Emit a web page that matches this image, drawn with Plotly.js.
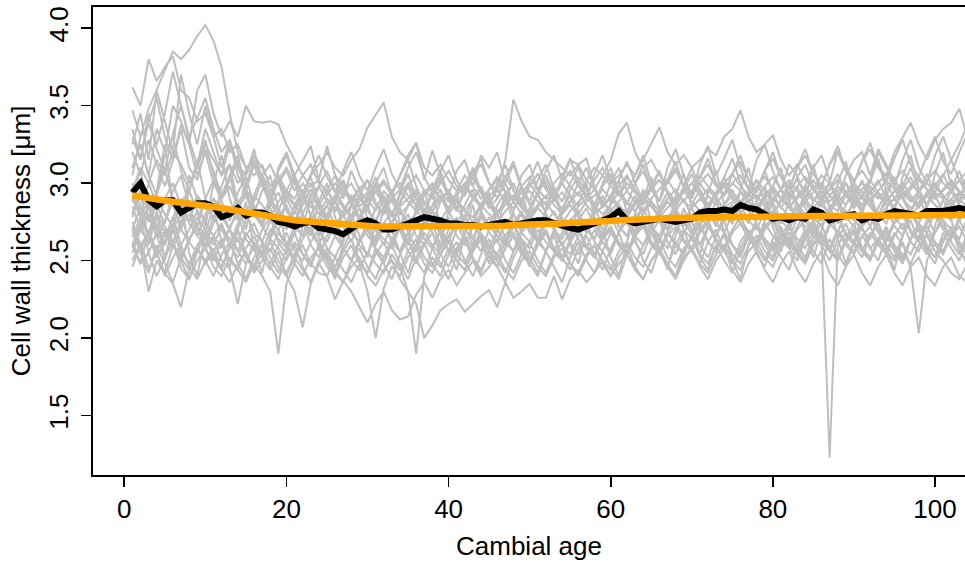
<!DOCTYPE html>
<html>
<head>
<meta charset="utf-8">
<script src="https://cdn.plot.ly/plotly-3.0.1.min.js"></script>
<style>html,body{margin:0;padding:0;background:#fff;overflow:hidden;}#chart{width:965px;height:564px;}</style>
</head>
<body>
<div id="chart"></div>
<script>
// Individual tree series (cell wall thickness per cambial age, starting at age 1)
const series01 = [3.05,3.30,3.48,3.60,3.72,3.85,3.80,3.86,3.95,4.02, 3.92,3.75,3.45,3.20,3.10,3.05,3.12,2.98,3.05,2.95, 2.90,3.00,2.92,2.85,2.95,2.88,2.80,2.92,2.85,2.90, 2.82,2.95,2.88,2.80,2.85,2.90,2.78,2.85,2.92,2.80, 2.88,2.82,2.75,2.85,2.90,2.80,2.86,2.92,2.84,2.78, 2.85,2.88,2.80,2.74,2.82,2.88,2.92,2.85,2.80,2.86, 2.95,2.88,2.82,2.90,2.85,2.78,2.84,2.90,2.95,2.88, 2.82,2.86,2.92,2.98,2.90,2.84,2.88,2.92,2.85,2.80, 2.88,2.94,2.86,2.80,2.84,2.90,2.86,2.82,2.92,2.98, 2.90,2.85,2.80,2.88,2.95,2.90,2.84,2.88,2.92,2.86, 2.82,2.90,2.94,2.88];
const series02 = [3.62,3.50,3.80,3.66,3.75,3.82,3.60,3.55,3.40,3.45, 3.30,3.35,3.20,3.25,3.10,3.15,3.05,3.12,3.00,3.08, 2.95,3.05,2.98,3.02,2.92,3.00,2.95,2.88,2.96,3.02, 2.94,2.88,2.95,3.00,2.92,2.86,2.94,3.00,2.95,2.88, 2.92,2.98,2.90,2.85,2.92,2.96,2.88,2.84,2.90,2.95, 2.88,2.82,2.90,2.94,2.86,2.80,2.88,2.92,2.96,2.90, 2.98,3.05,2.95,2.90,2.98,3.02,2.94,2.88,2.95,3.00, 3.05,2.98,2.92,3.00,3.06,2.98,2.92,2.98,3.04,2.96, 2.90,2.96,3.02,2.95,2.88,2.94,3.00,2.92,2.86,2.94, 3.00,2.95,2.90,2.96,3.02,2.94,2.88,2.95,3.00,2.94, 2.90,2.96,3.02,2.96];
const series03 = [3.47,3.30,3.38,3.25,3.45,3.72,3.50,3.30,3.42,3.55, 3.35,3.20,3.28,3.12,3.05,3.18,3.10,2.98,3.05,2.92, 2.85,2.95,2.88,2.80,2.90,2.84,2.78,2.86,2.92,2.82, 2.76,2.84,2.90,2.82,2.75,2.80,2.88,2.82,2.76,2.84, 2.90,2.82,2.78,2.86,2.80,2.74,2.82,2.88,2.80,2.76, 2.84,2.78,2.72,2.80,2.86,2.78,2.72,2.80,2.85,2.90, 2.84,2.78,2.86,2.92,2.85,2.80,2.88,2.82,2.76,2.84, 2.90,2.84,2.78,2.86,2.92,2.88,2.82,2.76,2.84,2.90, 2.85,2.78,2.84,2.90,2.82,2.76,2.82,2.88,2.80,2.86, 2.92,2.85,2.78,2.84,2.90,2.84,2.78,2.86,2.92,2.86, 2.80,2.86,2.90,2.84];
const series04 = [3.10,3.25,3.05,3.35,3.20,3.50,3.40,3.25,3.60,3.70, 3.45,3.30,3.40,3.30,3.50,3.40,3.39,3.40,3.38,3.25, 3.15,3.05,3.12,3.00,2.95,3.05,2.98,2.90,2.96,2.88, 2.94,3.00,2.92,2.85,2.90,2.96,2.88,2.82,2.90,2.95, 2.88,2.82,2.90,2.96,2.88,2.82,2.86,2.92,2.85,2.80, 2.86,2.92,2.86,2.80,2.88,2.94,2.86,2.80,2.85,2.92, 2.86,2.80,2.88,2.94,2.88,2.82,2.90,2.96,2.88,2.84, 2.90,2.96,2.90,2.84,2.88,2.94,2.88,2.82,2.90,2.96, 2.90,2.84,2.92,2.98,2.90,2.85,2.92,2.98,2.92,2.86, 2.92,2.98,2.92,2.86,2.90,2.96,2.90,2.84,2.92,2.98, 2.92,2.86,2.94,2.90];
const series05 = [2.95,3.10,3.00,3.15,3.05,3.20,3.12,3.00,3.10,3.25, 3.15,3.05,3.12,3.00,3.08,3.15,3.05,2.95,3.02,3.10, 3.00,2.92,3.05,3.12,3.20,3.10,3.05,3.15,3.22,3.36, 3.44,3.52,3.30,3.20,3.15,3.26,3.10,3.05,3.12,3.02, 2.95,3.05,2.98,2.90,2.96,3.04,2.95,2.88,2.94,3.00, 2.92,2.86,2.94,3.00,2.92,2.85,2.90,2.96,2.88,2.82, 2.88,2.95,2.88,2.82,2.90,2.96,3.02,2.94,2.88,2.95, 3.00,2.92,2.86,2.94,3.00,2.95,2.88,2.84,2.92,2.98, 2.90,2.84,2.90,2.96,3.02,2.94,2.88,2.95,3.00,2.92, 2.86,2.94,3.00,3.06,2.98,2.92,2.98,3.04,2.96,2.90, 2.96,3.02,2.95,2.90];
const series06 = [2.80,2.95,2.85,2.70,2.90,3.00,2.85,2.75,2.92,2.85, 2.78,2.90,2.98,2.85,2.80,2.92,2.86,2.78,2.88,2.95, 2.86,2.80,2.92,2.98,2.88,2.82,2.94,3.00,2.90,2.85, 2.95,3.02,2.92,2.86,2.98,3.05,2.95,2.90,3.00,3.08, 2.98,2.92,3.05,3.12,3.00,2.95,3.15,3.54,3.40,3.30, 3.28,3.20,3.15,3.10,3.05,3.12,3.02,2.96,3.05,2.98, 2.92,3.00,2.94,2.88,2.96,3.02,2.95,2.88,2.94,3.00, 2.92,2.86,2.94,3.00,2.94,2.88,2.95,3.02,2.95,2.90, 2.96,3.02,2.95,2.88,2.94,3.00,2.92,2.86,2.94,3.00, 2.94,2.88,2.95,3.02,2.96,2.90,2.96,3.02,2.96,2.90, 2.95,3.00,2.94,2.88];
const series07 = [2.70,2.85,2.75,2.90,2.80,2.72,2.88,2.95,2.82,2.76, 2.90,2.84,2.76,2.88,2.94,2.84,2.78,2.90,2.82,2.74, 2.84,2.90,2.80,2.74,2.86,2.92,2.84,2.78,2.88,2.94, 2.86,2.80,2.90,2.96,2.88,2.82,2.92,2.98,2.90,2.84, 2.94,3.00,2.92,2.86,2.96,3.02,2.94,2.88,2.98,3.04, 2.96,2.90,3.00,3.06,2.98,2.92,3.02,3.10,3.05,3.15, 3.32,3.39,3.20,3.10,3.15,3.05,3.00,3.08,2.98,2.92, 3.00,3.06,2.98,2.92,3.00,3.05,2.96,2.90,2.98,3.04, 2.96,2.90,2.98,3.04,2.96,2.90,2.96,3.02,2.94,2.88, 2.96,3.02,2.94,2.88,2.95,3.00,2.92,2.86,2.94,3.00, 2.92,2.86,2.92,2.98];
const series08 = [2.60,2.75,2.85,2.70,2.62,2.78,2.88,2.74,2.66,2.80, 2.90,2.78,2.70,2.84,2.92,2.80,2.72,2.86,2.94,2.82, 2.74,2.86,2.96,2.84,2.76,2.88,2.98,2.86,2.78,2.90, 2.98,2.88,2.80,2.92,3.00,2.90,2.82,2.94,3.02,2.92, 2.84,2.94,3.04,2.94,2.86,2.96,3.05,2.95,2.88,2.98, 3.06,2.96,2.90,3.00,3.08,2.98,2.92,3.02,3.10,3.00, 3.05,3.12,3.05,3.15,3.25,3.36,3.20,3.12,3.18,3.10, 3.15,3.22,3.18,3.30,3.35,3.47,3.30,3.20,3.25,3.31, 3.15,3.05,3.12,3.02,2.96,3.05,3.00,3.21,3.10,3.02, 3.08,3.00,3.20,3.10,3.02,3.08,3.00,2.94,3.02,3.08, 3.00,2.95,3.02,3.08];
const series09 = [2.55,2.70,2.62,2.78,2.68,2.58,2.72,2.80,2.66,2.60, 2.74,2.82,2.70,2.62,2.76,2.84,2.72,2.64,2.78,2.86, 2.74,2.66,2.80,2.88,2.76,2.68,2.82,2.90,2.78,2.70, 2.84,2.92,2.80,2.72,2.86,2.94,2.82,2.74,2.88,2.96, 2.84,2.76,2.90,2.98,2.86,2.78,2.92,3.00,2.88,2.80, 2.94,3.02,2.90,2.82,2.96,3.04,2.92,2.84,2.98,3.06, 2.94,2.86,3.00,3.08,2.96,2.88,3.02,3.10,2.98,2.90, 3.04,3.12,3.00,2.92,3.06,3.14,3.02,2.94,3.08,3.16, 3.04,2.96,3.10,3.18,3.06,2.98,3.12,3.20,3.08,3.00, 3.14,3.22,3.10,3.05,3.20,3.30,3.39,3.25,3.15,3.28, 3.35,3.39,3.48,3.30];
const series10 = [2.75,2.60,2.68,2.55,2.70,2.62,2.50,2.64,2.72,2.58, 2.66,2.74,2.60,2.52,2.66,2.74,2.62,2.56,2.68,2.60, 2.52,2.64,2.72,2.60,2.54,2.66,2.58,2.50,2.62,2.70, 2.58,2.52,2.64,2.72,2.62,2.56,2.68,2.60,2.54,2.66, 2.74,2.62,2.56,2.68,2.60,2.54,2.66,2.74,2.64,2.58, 2.70,2.62,2.56,2.68,2.76,2.64,2.58,2.70,2.62,2.56, 2.68,2.76,2.66,2.60,2.72,2.64,2.58,2.70,2.78,2.66, 2.60,2.72,2.64,2.58,2.70,2.78,2.68,2.62,2.74,2.66, 2.60,2.72,2.64,2.58,2.70,2.62,1.23,2.60,2.68,2.62, 2.56,2.68,2.60,2.54,2.66,2.74,2.62,2.56,2.68,2.60, 2.54,2.66,2.72,2.62];
const series11 = [2.90,2.78,2.66,2.80,2.72,2.62,2.76,2.84,2.70,2.64, 2.78,2.70,2.60,2.74,2.82,2.68,2.62,2.76,2.70,2.60, 2.72,2.80,2.68,2.60,2.74,2.66,2.58,2.70,2.78,2.66, 2.60,2.72,2.64,2.56,2.68,2.76,2.64,2.58,2.70,2.62, 2.56,2.68,2.76,2.64,2.58,2.70,2.62,2.56,2.68,2.74, 2.62,2.56,2.68,2.60,2.54,2.66,2.74,2.62,2.56,2.68, 2.60,2.54,2.66,2.74,2.62,2.56,2.68,2.60,2.54,2.66, 2.72,2.62,2.56,2.68,2.60,2.54,2.66,2.74,2.64,2.58, 2.70,2.62,2.56,2.68,2.76,2.64,2.58,2.70,2.62,2.56, 2.66,2.58,2.64,2.56,2.50,2.62,2.45,2.03,2.50,2.62, 2.56,2.68,2.60,2.54];
const series12 = [2.60,2.48,2.55,2.40,2.52,2.62,2.45,2.38,2.50,2.58, 2.46,2.40,2.52,2.44,2.36,2.48,2.40,2.30,1.90,2.35, 2.48,2.40,2.52,2.58,2.46,2.40,2.52,2.60,2.48,2.42, 2.54,2.62,2.50,2.44,2.56,2.64,2.52,2.46,2.58,2.66, 2.54,2.48,2.60,2.66,2.56,2.50,2.62,2.68,2.56,2.50, 2.62,2.70,2.58,2.52,2.64,2.72,2.60,2.54,2.66,2.72, 2.62,2.56,2.68,2.74,2.62,2.56,2.68,2.76,2.64,2.58, 2.70,2.76,2.64,2.58,2.70,2.78,2.66,2.60,2.72,2.78, 2.66,2.60,2.72,2.80,2.68,2.62,2.74,2.80,2.68,2.62, 2.74,2.80,2.70,2.64,2.76,2.82,2.70,2.64,2.76,2.82, 2.72,2.66,2.78,2.84];
const series13 = [2.85,2.70,2.80,2.65,2.75,2.88,2.70,2.62,2.78,2.70, 2.60,2.72,2.64,2.56,2.68,2.60,2.52,2.64,2.58,2.50, 2.62,2.54,2.48,2.60,2.52,2.46,2.58,2.50,2.44,2.56, 2.48,2.42,2.54,2.46,2.30,1.90,2.40,2.52,2.46,2.58, 2.50,2.44,2.56,2.64,2.52,2.46,2.58,2.66,2.54,2.48, 2.60,2.68,2.56,2.50,2.62,2.70,2.58,2.52,2.64,2.72, 2.60,2.54,2.66,2.74,2.62,2.56,2.68,2.62,2.54,2.66, 2.74,2.62,2.56,2.68,2.60,2.54,2.66,2.72,2.62,2.56, 2.68,2.60,2.54,2.66,2.74,2.62,2.56,2.68,2.60,2.54, 2.66,2.72,2.62,2.56,2.68,2.60,2.54,2.66,2.72,2.62, 2.56,2.68,2.62,2.56];
const series14 = [2.50,2.62,2.45,2.55,2.40,2.52,2.60,2.46,2.38,2.50, 2.58,2.44,2.36,2.48,2.56,2.42,2.50,2.58,2.46,2.40, 2.52,2.44,2.36,2.48,2.54,2.42,2.36,2.46,2.52,2.40, 2.34,2.44,2.50,2.38,2.30,2.22,2.00,2.08,2.18,2.22, 2.25,2.17,2.22,2.27,2.31,2.20,2.36,2.26,2.30,2.35, 2.26,2.26,2.40,2.25,2.38,2.44,2.36,2.42,2.50,2.40, 2.48,2.54,2.44,2.38,2.50,2.56,2.46,2.40,2.52,2.58, 2.48,2.42,2.54,2.60,2.50,2.44,2.56,2.62,2.52,2.46, 2.58,2.64,2.54,2.48,2.60,2.66,2.56,2.50,2.62,2.68, 2.56,2.50,2.62,2.68,2.58,2.52,2.64,2.70,2.58,2.52, 2.64,2.70,2.60,2.54];
const series15 = [2.70,2.58,2.66,2.52,2.62,2.70,2.56,2.48,2.60,2.68, 2.54,2.46,2.58,2.64,2.52,2.44,2.56,2.62,2.50,2.42, 2.54,2.60,2.48,2.42,2.40,2.25,2.37,2.30,2.20,2.10, 2.22,2.30,2.18,2.12,2.14,2.28,2.36,2.26,2.38,2.44, 2.34,2.42,2.50,2.40,2.46,2.54,2.44,2.38,2.50,2.56, 2.46,2.40,2.52,2.58,2.48,2.42,2.54,2.60,2.50,2.44, 2.56,2.62,2.52,2.46,2.58,2.64,2.52,2.46,2.58,2.64, 2.54,2.48,2.60,2.66,2.54,2.48,2.60,2.66,2.56,2.50, 2.62,2.68,2.56,2.50,2.62,2.68,2.58,2.52,2.64,2.70, 2.58,2.52,2.64,2.70,2.60,2.54,2.48,2.60,2.66,2.56, 2.50,2.42,2.38,2.48];
const series16 = [2.46,2.60,2.30,2.50,2.42,2.35,2.20,2.45,2.58,2.48, 2.56,2.64,2.50,2.44,2.58,2.66,2.54,2.48,2.60,2.68, 2.56,2.50,2.62,2.70,2.58,2.52,2.64,2.72,2.60,2.54, 2.66,2.74,2.62,2.56,2.68,2.76,2.64,2.58,2.70,2.78, 2.66,2.60,2.72,2.80,2.68,2.62,2.74,2.80,2.68,2.62, 2.74,2.80,2.70,2.64,2.76,2.82,2.70,2.64,2.76,2.82, 2.72,2.66,2.78,2.84,2.72,2.66,2.78,2.84,2.74,2.68, 2.80,2.86,2.74,2.68,2.80,2.86,2.76,2.70,2.82,2.88, 2.76,2.70,2.82,2.88,2.78,2.72,2.84,2.90,2.78,2.72, 2.84,2.90,2.80,2.74,2.86,2.92,2.80,2.74,2.86,2.92, 2.82,2.76,2.88,2.94];
const series17 = [2.95,2.80,2.88,2.72,2.65,2.78,2.60,2.70,2.82,2.58, 2.64,2.50,2.45,2.22,2.48,2.62,2.55,2.70,2.64,2.58, 2.72,2.66,2.78,2.70,2.62,2.74,2.80,2.68,2.62,2.75, 2.70,2.64,2.58,2.72,2.80,2.66,2.60,2.74,2.68,2.62, 2.76,2.70,2.64,2.78,2.72,2.66,2.60,2.74,2.82,2.70, 2.64,2.78,2.72,2.60,2.68,2.76,2.70,2.64,2.78,2.84, 2.72,2.66,2.80,2.74,2.68,2.62,2.76,2.82,2.70,2.64, 2.78,2.72,2.66,2.80,2.86,2.74,2.68,2.62,2.76,2.82, 2.70,2.64,2.78,2.72,2.66,2.80,2.74,2.68,2.82,2.76, 2.70,2.64,2.78,2.84,2.72,2.66,2.80,2.74,2.68,2.82, 2.76,2.70,2.64,2.78];
const series18 = [2.65,2.78,2.55,2.68,2.60,2.74,2.52,2.64,2.72,2.58, 2.50,2.62,2.70,2.56,2.48,2.60,2.52,2.44,2.56,2.40, 2.30,2.07,2.35,2.48,2.40,2.52,2.44,2.36,2.48,2.30, 2.00,2.32,2.46,2.40,2.52,2.60,2.48,2.42,2.54,2.62, 2.50,2.44,2.56,2.64,2.52,2.46,2.58,2.66,2.54,2.48, 2.60,2.68,2.56,2.50,2.62,2.70,2.58,2.52,2.64,2.70, 2.60,2.54,2.66,2.72,2.60,2.54,2.66,2.72,2.62,2.56, 2.68,2.74,2.62,2.56,2.68,2.74,2.64,2.58,2.70,2.76, 2.64,2.58,2.70,2.76,2.66,2.60,2.72,2.78,2.66,2.60, 2.72,2.78,2.68,2.62,2.74,2.80,2.68,2.62,2.74,2.80, 2.70,2.64,2.76,2.82];
const series19 = [3.20,3.05,3.28,3.12,2.98,3.15,3.35,3.10,3.02,3.22, 3.08,2.92,3.05,3.18,2.96,2.88,3.02,2.90,2.82,2.95, 3.05,2.92,2.84,2.98,3.08,2.95,2.86,2.78,2.92,3.02, 2.88,2.80,2.94,3.05,3.15,2.98,2.86,2.92,3.04,2.90, 2.82,2.96,3.08,2.94,2.84,2.90,3.00,3.12,2.96,2.86, 2.92,3.05,2.94,2.82,2.88,3.00,3.10,2.96,2.84,2.92, 3.02,3.14,3.00,2.88,2.96,3.08,2.94,2.86,2.98,3.10, 2.96,2.86,2.92,3.04,3.16,3.00,2.88,2.96,3.08,2.94, 2.84,2.92,3.04,3.12,2.98,2.88,2.96,3.06,2.94,2.84, 2.92,3.02,3.14,3.00,2.90,2.98,3.10,2.96,2.86,2.94, 3.05,3.15,3.02,2.92];
const series20 = [3.35,3.15,3.40,3.55,3.30,3.15,3.38,3.25,3.05,3.20, 3.00,2.90,3.05,2.85,2.95,2.80,2.72,2.88,2.78,2.70, 2.82,2.74,2.66,2.78,2.86,2.72,2.64,2.76,2.84,2.70, 2.62,2.74,2.82,2.70,2.60,2.72,2.80,2.68,2.58,2.70, 2.78,2.66,2.58,2.70,2.78,2.66,2.60,2.72,2.80,2.68, 2.62,2.74,2.82,2.70,2.64,2.76,2.84,2.72,2.66,2.78, 2.86,2.74,2.68,2.80,2.88,2.76,2.70,2.82,2.90,2.78, 2.72,2.84,2.92,2.80,2.74,2.86,2.94,2.82,2.76,2.88, 2.96,2.84,2.78,2.90,2.98,2.86,2.80,2.92,3.00,2.88, 2.82,2.94,3.02,2.90,2.84,2.96,3.04,2.92,2.86,2.98, 3.06,2.94,2.88,3.00];
const series21 = [2.58,2.72,2.85,2.66,2.52,2.70,2.80,2.62,2.55,2.74, 2.66,2.58,2.72,2.80,2.64,2.56,2.70,2.78,2.62,2.54, 2.68,2.76,2.60,2.52,2.66,2.74,2.58,2.50,2.64,2.72, 2.56,2.48,2.62,2.70,2.56,2.48,2.60,2.68,2.54,2.46, 2.58,2.66,2.52,2.44,2.56,2.64,2.50,2.42,2.54,2.62, 2.50,2.42,2.54,2.62,2.48,2.40,2.52,2.60,2.48,2.40, 2.52,2.60,2.46,2.38,2.50,2.58,2.46,2.38,2.50,2.58, 2.46,2.38,2.50,2.58,2.44,2.36,2.48,2.56,2.44,2.36, 2.48,2.56,2.44,2.36,2.48,2.56,2.42,2.34,2.46,2.54, 2.42,2.34,2.46,2.54,2.42,2.34,2.46,2.52,2.40,2.34, 2.46,2.52,2.40,2.36];
const series22 = [3.00,2.85,2.65,2.92,3.10,2.88,2.70,2.95,3.15,2.90, 2.75,2.98,3.12,2.86,2.70,2.92,3.05,2.84,2.68,2.90, 3.02,2.80,2.66,2.88,3.00,2.78,2.64,2.86,2.98,2.76, 2.62,2.84,2.96,2.74,2.62,2.84,2.96,2.74,2.60,2.82, 2.94,2.72,2.60,2.82,2.94,2.72,2.60,2.82,2.96,2.74, 2.62,2.84,2.98,2.76,2.64,2.86,3.00,2.78,2.66,2.88, 3.02,2.80,2.68,2.90,3.04,2.82,2.70,2.92,3.06,2.84, 2.72,2.94,3.08,2.86,2.74,2.96,3.10,2.88,2.76,2.98, 3.10,2.88,2.76,2.98,3.12,2.90,2.78,3.00,3.14,2.92, 2.80,3.02,3.16,2.94,2.82,3.04,3.18,2.96,2.84,3.06, 3.20,2.98,2.86,3.08];
const series23 = [2.78,2.95,2.60,2.82,2.50,2.72,2.90,2.55,2.40,2.68, 2.85,2.62,2.45,2.70,2.88,2.58,2.42,2.66,2.84,2.60, 2.48,2.72,2.90,2.64,2.50,2.38,2.62,2.80,2.66,2.52, 2.74,2.92,2.70,2.55,2.42,2.60,2.78,2.95,2.72,2.56, 2.44,2.68,2.86,2.62,2.48,2.70,2.92,2.74,2.58,2.46, 2.64,2.82,2.98,2.76,2.60,2.48,2.68,2.86,2.70,2.52, 2.40,2.62,2.80,2.96,2.74,2.58,2.44,2.66,2.84,2.70, 2.54,2.72,2.90,2.68,2.50,2.38,2.60,2.78,2.94,2.72, 2.56,2.74,2.88,2.66,2.52,2.70,2.86,2.64,2.48,2.62, 2.80,2.96,2.74,2.58,2.44,2.66,2.82,2.70,2.54,2.72, 2.90,2.76,2.60,2.46];
const series24 = [3.10,3.25,3.05,2.92,3.18,3.30,3.08,2.95,3.12,3.28, 3.05,2.90,3.02,3.15,2.92,2.80,2.95,3.05,2.84,2.72, 2.86,2.96,2.78,2.66,2.80,2.90,2.72,2.62,2.76,2.86, 2.70,2.60,2.74,2.84,2.68,2.58,2.72,2.82,2.66,2.56, 2.70,2.80,2.64,2.56,2.70,2.80,2.64,2.56,2.70,2.78, 2.64,2.56,2.70,2.78,2.62,2.54,2.68,2.78,2.62,2.54, 2.68,2.76,2.62,2.54,2.68,2.76,2.62,2.54,2.68,2.76, 2.60,2.52,2.66,2.76,2.60,2.52,2.66,2.74,2.60,2.52, 2.66,2.74,2.60,2.52,2.66,2.74,2.58,2.50,2.64,2.74, 2.58,2.50,2.64,2.72,2.58,2.50,2.64,2.72,2.56,2.48, 2.62,2.72,2.56,2.48];
const series25 = [3.30,3.15,3.45,3.22,3.08,3.32,3.50,3.28,3.12,3.35, 3.20,3.05,3.25,3.10,2.98,3.15,3.02,2.92,3.08,3.18, 3.02,2.92,3.06,3.18,3.04,2.94,3.08,3.20,3.05,2.95, 3.10,3.22,3.06,2.96,3.10,3.20,3.04,2.94,3.08,3.18, 3.02,2.92,3.06,3.16,3.00,2.90,3.04,3.14,2.98,2.88, 3.02,3.12,2.96,2.88,3.00,3.10,2.96,2.86,3.00,3.10, 2.94,2.86,3.00,3.12,2.96,2.88,3.02,3.14,2.98,2.90, 3.04,3.16,3.00,2.92,3.06,3.18,3.02,2.94,3.08,3.20, 3.04,2.96,3.10,3.22,3.06,2.98,3.12,3.24,3.08,3.00, 3.14,3.26,3.10,3.02,3.16,3.28,3.12,3.04,3.18,3.30, 3.14,3.06,3.20,3.32];
const series26 = [2.62,2.48,2.70,2.55,2.42,2.60,2.50,2.38,2.56,2.66, 2.52,2.44,2.60,2.70,2.54,2.46,2.62,2.52,2.42,2.58, 2.68,2.54,2.46,2.60,2.50,2.40,2.56,2.64,2.50,2.42, 2.58,2.48,2.38,2.54,2.64,2.50,2.42,2.58,2.48,2.38, 2.54,2.64,2.50,2.42,2.56,2.46,2.36,2.52,2.62,2.48, 2.40,2.56,2.46,2.36,2.52,2.62,2.50,2.42,2.56,2.46, 2.38,2.54,2.64,2.50,2.42,2.58,2.48,2.40,2.56,2.66, 2.52,2.44,2.60,2.50,2.42,2.58,2.68,2.54,2.46,2.62, 2.52,2.44,2.60,2.70,2.56,2.48,2.64,2.54,2.46,2.62, 2.72,2.58,2.50,2.66,2.56,2.48,2.64,2.74,2.60,2.52, 2.68,2.58,2.50,2.66];
const series27 = [2.88,3.10,2.75,2.95,3.25,2.86,2.70,3.05,2.90,2.72, 3.00,3.18,2.90,2.76,3.05,3.22,3.00,2.85,3.10,3.20, 3.05,3.15,3.24,3.02,3.24,3.05,2.90,3.08,2.95,2.82, 3.00,3.10,2.92,3.05,3.18,3.26,3.02,3.21,3.05,2.92, 3.08,3.15,2.98,3.18,3.10,3.20,3.00,2.88,3.05,3.12, 2.95,3.08,3.18,3.02,3.15,3.12,3.16,2.98,2.86,3.00, 3.10,2.95,3.05,3.18,3.00,2.88,3.10,3.22,3.05,2.92, 3.12,3.24,3.05,3.16,3.28,3.10,2.96,3.15,3.25,3.08, 2.95,3.12,3.05,2.90,3.10,3.18,3.02,2.88,3.05,3.15, 3.20,3.05,3.22,3.12,2.98,3.15,3.28,3.10,3.00,3.18, 3.30,3.15,3.25,3.38];
const series28 = [3.25,3.45,3.15,3.60,3.40,3.20,3.70,3.45,3.25,3.50, 3.30,3.10,3.28,3.05,2.95,3.12,2.98,2.88,3.02,2.90, 2.80,2.94,3.04,2.88,2.78,2.92,3.02,2.86,2.76,2.90, 3.00,2.84,2.74,2.88,2.98,2.84,2.74,2.86,2.96,2.82, 2.72,2.86,2.96,2.82,2.72,2.86,2.94,2.80,2.70,2.84, 2.94,2.80,2.70,2.84,2.92,2.78,2.68,2.82,2.92,2.78, 2.68,2.82,2.92,2.78,2.70,2.84,2.94,2.80,2.72,2.86, 2.96,2.82,2.72,2.86,2.96,2.82,2.74,2.88,2.98,2.84, 2.74,2.88,2.98,2.84,2.76,2.90,3.00,2.86,2.76,2.90, 3.02,2.88,2.78,2.92,3.04,2.90,2.80,2.94,3.06,2.92, 2.82,2.96,3.08,2.94];
const series29 = [2.70,2.55,2.42,2.60,2.48,2.36,2.52,2.44,2.58,2.50, 2.40,2.54,2.62,2.48,2.38,2.52,2.60,2.46,2.38,2.52, 2.60,2.46,2.36,2.50,2.58,2.44,2.36,2.50,2.58,2.46, 2.38,2.52,2.60,2.48,2.38,2.52,2.62,2.48,2.40,2.54, 2.62,2.50,2.40,2.54,2.64,2.50,2.42,2.56,2.64,2.52, 2.42,2.56,2.66,2.52,2.44,2.58,2.66,2.54,2.44,2.58, 2.68,2.54,2.46,2.60,2.68,2.56,2.46,2.60,2.70,2.56, 2.48,2.62,2.70,2.56,2.48,2.62,2.70,2.58,2.50,2.64, 2.72,2.58,2.50,2.64,2.72,2.60,2.50,2.64,2.74,2.60, 2.52,2.66,2.74,2.60,2.52,2.66,2.76,2.62,2.54,2.68, 2.76,2.62,2.54,2.68];
const series30 = [2.92,2.78,3.00,2.86,2.74,2.95,3.05,2.85,2.72,2.90, 3.02,2.88,2.76,2.94,3.04,2.86,2.74,2.92,3.02,2.84, 2.74,2.90,3.00,2.84,2.74,2.90,3.02,2.86,2.76,2.92, 3.04,2.88,2.78,2.94,3.06,2.90,2.80,2.96,3.08,2.92, 2.82,2.98,3.10,2.94,2.84,3.00,3.12,2.96,2.86,3.02, 3.14,2.98,2.88,3.04,3.16,3.00,2.90,3.06,3.18,3.02, 2.92,3.04,2.96,2.86,2.98,3.08,2.94,2.84,2.96,3.06, 2.92,2.82,2.94,3.04,2.90,2.80,2.92,3.02,2.88,2.78, 2.90,3.00,2.86,2.76,2.88,2.98,2.84,2.74,2.86,2.96, 2.82,2.72,2.84,2.94,2.80,2.70,2.82,2.92,2.78,2.68, 2.80,2.90,2.76,2.66];

// Mean chronology (black) and smoothed trend (orange)
const meanSeries = [2.94,3.00,2.89,2.85,2.89,2.89,2.81,2.84,2.87,2.87, 2.85,2.78,2.80,2.84,2.79,2.81,2.81,2.79,2.75,2.74, 2.72,2.74,2.75,2.71,2.70,2.69,2.67,2.71,2.74,2.76, 2.74,2.70,2.70,2.72,2.74,2.76,2.78,2.77,2.76,2.74, 2.74,2.73,2.73,2.72,2.73,2.74,2.75,2.73,2.74,2.75, 2.76,2.76,2.74,2.72,2.71,2.70,2.72,2.74,2.75,2.78, 2.82,2.76,2.74,2.75,2.76,2.77,2.76,2.75,2.76,2.77, 2.81,2.82,2.82,2.83,2.82,2.86,2.84,2.83,2.80,2.77, 2.78,2.76,2.78,2.77,2.83,2.81,2.76,2.78,2.79,2.80, 2.76,2.78,2.77,2.80,2.82,2.81,2.80,2.79,2.82,2.82, 2.82,2.83,2.84,2.83];
const trendSeries = [2.920,2.910,2.905,2.900,2.890,2.880,2.875,2.870,2.860,2.855, 2.845,2.840,2.830,2.820,2.810,2.800,2.795,2.785,2.775,2.765, 2.760,2.755,2.750,2.745,2.740,2.735,2.730,2.730,2.725,2.725, 2.720,2.720,2.720,2.715,2.715,2.715,2.715,2.715,2.715,2.715, 2.715,2.720,2.720,2.720,2.720,2.725,2.725,2.730,2.730,2.730, 2.735,2.735,2.740,2.740,2.745,2.745,2.750,2.750,2.755,2.755, 2.760,2.760,2.765,2.765,2.770,2.770,2.775,2.775,2.775,2.780, 2.780,2.780,2.780,2.782,2.782,2.783,2.783,2.784,2.784,2.785, 2.785,2.786,2.786,2.787,2.787,2.788,2.788,2.789,2.789,2.790, 2.790,2.790,2.791,2.791,2.792,2.792,2.793,2.793,2.794,2.794, 2.795,2.795,2.795,2.795];

const xTicks = [0, 20, 40, 60, 80, 100];
const yTicks = [1.5, 2.0, 2.5, 3.0, 3.5, 4.0];
const yTickLabels = ["1.5", "2.0", "2.5", "3.0", "3.5", "4.0"];

const allSeries = [series01,series02,series03,series04,series05,series06,series07,series08,series09,series10,
  series11,series12,series13,series14,series15,series16,series17,series18,series19,series20,
  series21,series22,series23,series24,series25,series26,series27,series28,series29,series30];

const ages = arr => arr.map((_, i) => i + 1);

const traces = allSeries.map(s => ({
  type: 'scatter', mode: 'lines', x: ages(s), y: s,
  line: {color: '#BEBEBE', width: 2}, hoverinfo: 'skip', showlegend: false
}));
traces.push({type: 'scatter', mode: 'lines', x: ages(meanSeries), y: meanSeries,
  line: {color: '#000000', width: 6}, showlegend: false});
traces.push({type: 'scatter', mode: 'lines', x: ages(trendSeries), y: trendSeries,
  line: {color: '#FFA500', width: 6.5}, showlegend: false});

const fontFam = 'Liberation Sans, Arial, Helvetica, sans-serif';
const fs = 26;
const layout = {
  width: 965, height: 564,
  margin: {l: 93, r: 0, t: 7, b: 89, pad: 0},
  paper_bgcolor: '#ffffff', plot_bgcolor: '#ffffff',
  font: {family: fontFam, size: fs, color: '#000000'},
  showlegend: false,
  xaxis: {
    range: [-3.86, 103.7], showgrid: false, zeroline: false,
    showline: true, linecolor: '#000', linewidth: 1.6, mirror: true,
    ticks: 'outside', ticklen: 10, tickwidth: 1.6, tickcolor: '#000',
    tickvals: xTicks, ticktext: xTicks.map(String),
    tickfont: {family: fontFam, size: fs, color: '#000'},
    title: {text: 'Cambial age', font: {family: fontFam, size: fs, color: '#000'}, standoff: 14}
  },
  yaxis: {
    range: [1.116, 4.137], showgrid: false, zeroline: false,
    showline: true, linecolor: '#000', linewidth: 1.6, mirror: false,
    ticks: 'outside', ticklen: 10, tickwidth: 1.6, tickcolor: '#000',
    tickvals: yTicks, ticktext: yTickLabels, tickangle: -90, ticklabelstandoff: 3,
    tickfont: {family: fontFam, size: fs, color: '#000'},
    title: {text: 'Cell wall thickness [\u03bcm]', font: {family: fontFam, size: fs, color: '#000'}, standoff: 6}
  }
};

Plotly.newPlot('chart', traces, layout, {staticPlot: true, displayModeBar: false});
</script>
</body>
</html>
